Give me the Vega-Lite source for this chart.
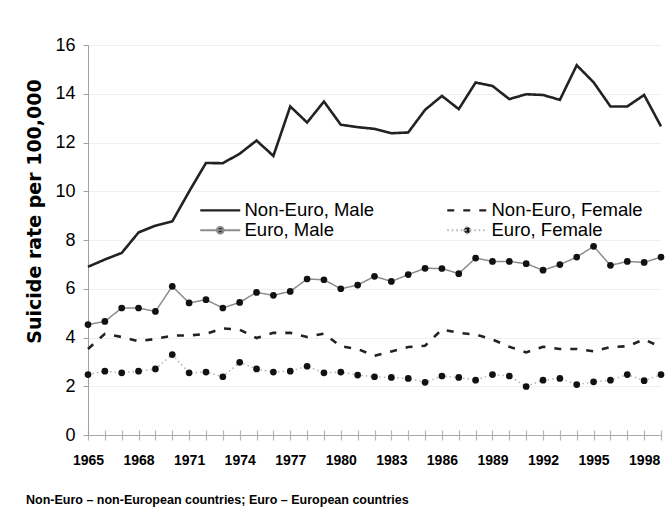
{
  "$schema": "https://vega.github.io/schema/vega-lite/v6.json",
  "width": 573,
  "height": 390,
  "padding": {"left": 25, "top": 36, "right": 5, "bottom": 5},
  "background": "white",
  "config": {"view": {"stroke": null}, "font": "Liberation Sans"},
  "title": {
    "text": "Non-Euro – non-European countries; Euro – European countries",
    "orient": "bottom", "anchor": "start", "frame": "bounds",
    "fontSize": 12.5, "fontWeight": "bold", "font": "Liberation Sans", "color": "#000000", "offset": 27
  },
  "data": {"values": [
    {"year":1965,"series":"Non-Euro, Male","rate":6.9},{"year":1966,"series":"Non-Euro, Male","rate":7.2},{"year":1967,"series":"Non-Euro, Male","rate":7.47},{"year":1968,"series":"Non-Euro, Male","rate":8.31},{"year":1969,"series":"Non-Euro, Male","rate":8.59},{"year":1970,"series":"Non-Euro, Male","rate":8.76},{"year":1971,"series":"Non-Euro, Male","rate":9.99},{"year":1972,"series":"Non-Euro, Male","rate":11.16},{"year":1973,"series":"Non-Euro, Male","rate":11.15},{"year":1974,"series":"Non-Euro, Male","rate":11.54},{"year":1975,"series":"Non-Euro, Male","rate":12.08},{"year":1976,"series":"Non-Euro, Male","rate":11.45},{"year":1977,"series":"Non-Euro, Male","rate":13.48},{"year":1978,"series":"Non-Euro, Male","rate":12.82},{"year":1979,"series":"Non-Euro, Male","rate":13.68},{"year":1980,"series":"Non-Euro, Male","rate":12.73},{"year":1981,"series":"Non-Euro, Male","rate":12.63},{"year":1982,"series":"Non-Euro, Male","rate":12.56},{"year":1983,"series":"Non-Euro, Male","rate":12.38},{"year":1984,"series":"Non-Euro, Male","rate":12.41},{"year":1985,"series":"Non-Euro, Male","rate":13.34},{"year":1986,"series":"Non-Euro, Male","rate":13.91},{"year":1987,"series":"Non-Euro, Male","rate":13.37},{"year":1988,"series":"Non-Euro, Male","rate":14.46},{"year":1989,"series":"Non-Euro, Male","rate":14.32},{"year":1990,"series":"Non-Euro, Male","rate":13.78},{"year":1991,"series":"Non-Euro, Male","rate":13.98},{"year":1992,"series":"Non-Euro, Male","rate":13.95},{"year":1993,"series":"Non-Euro, Male","rate":13.75},{"year":1994,"series":"Non-Euro, Male","rate":15.17},{"year":1995,"series":"Non-Euro, Male","rate":14.47},{"year":1996,"series":"Non-Euro, Male","rate":13.48},{"year":1997,"series":"Non-Euro, Male","rate":13.48},{"year":1998,"series":"Non-Euro, Male","rate":13.95},{"year":1999,"series":"Non-Euro, Male","rate":12.66},
    {"year":1965,"series":"Non-Euro, Female","rate":3.53},{"year":1966,"series":"Non-Euro, Female","rate":4.15},{"year":1967,"series":"Non-Euro, Female","rate":4.02},{"year":1968,"series":"Non-Euro, Female","rate":3.85},{"year":1969,"series":"Non-Euro, Female","rate":3.94},{"year":1970,"series":"Non-Euro, Female","rate":4.08},{"year":1971,"series":"Non-Euro, Female","rate":4.08},{"year":1972,"series":"Non-Euro, Female","rate":4.15},{"year":1973,"series":"Non-Euro, Female","rate":4.37},{"year":1974,"series":"Non-Euro, Female","rate":4.32},{"year":1975,"series":"Non-Euro, Female","rate":3.98},{"year":1976,"series":"Non-Euro, Female","rate":4.19},{"year":1977,"series":"Non-Euro, Female","rate":4.19},{"year":1978,"series":"Non-Euro, Female","rate":4.02},{"year":1979,"series":"Non-Euro, Female","rate":4.16},{"year":1980,"series":"Non-Euro, Female","rate":3.64},{"year":1981,"series":"Non-Euro, Female","rate":3.53},{"year":1982,"series":"Non-Euro, Female","rate":3.25},{"year":1983,"series":"Non-Euro, Female","rate":3.43},{"year":1984,"series":"Non-Euro, Female","rate":3.61},{"year":1985,"series":"Non-Euro, Female","rate":3.66},{"year":1986,"series":"Non-Euro, Female","rate":4.33},{"year":1987,"series":"Non-Euro, Female","rate":4.19},{"year":1988,"series":"Non-Euro, Female","rate":4.12},{"year":1989,"series":"Non-Euro, Female","rate":3.92},{"year":1990,"series":"Non-Euro, Female","rate":3.62},{"year":1991,"series":"Non-Euro, Female","rate":3.39},{"year":1992,"series":"Non-Euro, Female","rate":3.62},{"year":1993,"series":"Non-Euro, Female","rate":3.53},{"year":1994,"series":"Non-Euro, Female","rate":3.53},{"year":1995,"series":"Non-Euro, Female","rate":3.43},{"year":1996,"series":"Non-Euro, Female","rate":3.61},{"year":1997,"series":"Non-Euro, Female","rate":3.64},{"year":1998,"series":"Non-Euro, Female","rate":3.92},{"year":1999,"series":"Non-Euro, Female","rate":3.61},
    {"year":1965,"series":"Euro, Male","rate":4.53},{"year":1966,"series":"Euro, Male","rate":4.66},{"year":1967,"series":"Euro, Male","rate":5.21},{"year":1968,"series":"Euro, Male","rate":5.21},{"year":1969,"series":"Euro, Male","rate":5.07},{"year":1970,"series":"Euro, Male","rate":6.1},{"year":1971,"series":"Euro, Male","rate":5.42},{"year":1972,"series":"Euro, Male","rate":5.55},{"year":1973,"series":"Euro, Male","rate":5.21},{"year":1974,"series":"Euro, Male","rate":5.44},{"year":1975,"series":"Euro, Male","rate":5.85},{"year":1976,"series":"Euro, Male","rate":5.73},{"year":1977,"series":"Euro, Male","rate":5.89},{"year":1978,"series":"Euro, Male","rate":6.4},{"year":1979,"series":"Euro, Male","rate":6.37},{"year":1980,"series":"Euro, Male","rate":6.0},{"year":1981,"series":"Euro, Male","rate":6.15},{"year":1982,"series":"Euro, Male","rate":6.51},{"year":1983,"series":"Euro, Male","rate":6.3},{"year":1984,"series":"Euro, Male","rate":6.58},{"year":1985,"series":"Euro, Male","rate":6.84},{"year":1986,"series":"Euro, Male","rate":6.83},{"year":1987,"series":"Euro, Male","rate":6.62},{"year":1988,"series":"Euro, Male","rate":7.26},{"year":1989,"series":"Euro, Male","rate":7.12},{"year":1990,"series":"Euro, Male","rate":7.12},{"year":1991,"series":"Euro, Male","rate":7.03},{"year":1992,"series":"Euro, Male","rate":6.76},{"year":1993,"series":"Euro, Male","rate":6.99},{"year":1994,"series":"Euro, Male","rate":7.3},{"year":1995,"series":"Euro, Male","rate":7.74},{"year":1996,"series":"Euro, Male","rate":6.96},{"year":1997,"series":"Euro, Male","rate":7.12},{"year":1998,"series":"Euro, Male","rate":7.08},{"year":1999,"series":"Euro, Male","rate":7.3},
    {"year":1965,"series":"Euro, Female","rate":2.48},{"year":1966,"series":"Euro, Female","rate":2.62},{"year":1967,"series":"Euro, Female","rate":2.55},{"year":1968,"series":"Euro, Female","rate":2.62},{"year":1969,"series":"Euro, Female","rate":2.71},{"year":1970,"series":"Euro, Female","rate":3.3},{"year":1971,"series":"Euro, Female","rate":2.55},{"year":1972,"series":"Euro, Female","rate":2.58},{"year":1973,"series":"Euro, Female","rate":2.39},{"year":1974,"series":"Euro, Female","rate":2.98},{"year":1975,"series":"Euro, Female","rate":2.71},{"year":1976,"series":"Euro, Female","rate":2.58},{"year":1977,"series":"Euro, Female","rate":2.62},{"year":1978,"series":"Euro, Female","rate":2.82},{"year":1979,"series":"Euro, Female","rate":2.55},{"year":1980,"series":"Euro, Female","rate":2.58},{"year":1981,"series":"Euro, Female","rate":2.46},{"year":1982,"series":"Euro, Female","rate":2.39},{"year":1983,"series":"Euro, Female","rate":2.36},{"year":1984,"series":"Euro, Female","rate":2.32},{"year":1985,"series":"Euro, Female","rate":2.16},{"year":1986,"series":"Euro, Female","rate":2.42},{"year":1987,"series":"Euro, Female","rate":2.36},{"year":1988,"series":"Euro, Female","rate":2.25},{"year":1989,"series":"Euro, Female","rate":2.48},{"year":1990,"series":"Euro, Female","rate":2.42},{"year":1991,"series":"Euro, Female","rate":1.99},{"year":1992,"series":"Euro, Female","rate":2.25},{"year":1993,"series":"Euro, Female","rate":2.32},{"year":1994,"series":"Euro, Female","rate":2.07},{"year":1995,"series":"Euro, Female","rate":2.18},{"year":1996,"series":"Euro, Female","rate":2.25},{"year":1997,"series":"Euro, Female","rate":2.48},{"year":1998,"series":"Euro, Female","rate":2.23},{"year":1999,"series":"Euro, Female","rate":2.48}
  ]},
  "encoding": {
    "x": {
      "field": "year", "type": "quantitative",
      "scale": {"domain": [1965, 1999], "nice": false, "zero": false},
      "axis": {
        "title": null,
        "values": [1965,1966,1967,1968,1969,1970,1971,1972,1973,1974,1975,1976,1977,1978,1979,1980,1981,1982,1983,1984,1985,1986,1987,1988,1989,1990,1991,1992,1993,1994,1995,1996,1997,1998,1999],
        "format": "d",
        "labelExpr": "(datum.value - 1965) % 3 === 0 ? datum.label : ''",
        "domain": false, "offset": -5, "tickSize": 10, "tickColor": "#b4b4b4", "tickWidth": 1.2,
        "labelFont": "Liberation Sans", "labelFontSize": 14, "labelFontWeight": "bold", "labelColor": "#000000",
        "labelPadding": 13, "grid": false, "labelFlush": false, "labelOverlap": false
      }
    },
    "y": {
      "field": "rate", "type": "quantitative",
      "scale": {"domain": [0, 16], "nice": false},
      "axis": {
        "title": "Suicide rate per 100,000",
        "values": [0,2,4,6,8,10,12,14,16],
        "titleFont": "DejaVu Sans", "titleFontSize": 19, "titleFontWeight": "bold", "titleColor": "#000000",
        "titlePadding": 10, "titleY": 166,
        "labelFont": "Liberation Sans", "labelFontSize": 18, "labelColor": "#000000", "labelPadding": 8,
        "tickSize": 5, "tickColor": "#a0a0a0", "domainColor": "#a0a0a0",
        "gridColor": {"condition": {"test": "datum.value === 0", "value": "#a8a8a8"}, "value": "#efefef"}
      }
    }
  },
  "layer": [
    {
      "mark": {"type": "line"},
      "encoding": {
        "color": {
          "field": "series", "type": "nominal",
          "scale": {"domain": ["Non-Euro, Male","Non-Euro, Female","Euro, Male","Euro, Female"], "range": ["#222222","#222222","#8c8c8c","#b4b4b4"]},
          "legend": {
            "title": null, "orient": "none", "legendX": 108, "legendY": 156,
            "direction": "horizontal", "columns": 2, "columnPadding": 67, "rowPadding": 1, "padding": 0,
            "labelFont": "Liberation Sans", "labelFontSize": 18.5, "labelColor": "#000000", "labelOffset": 30, "labelLimit": 300,
            "symbolType": "M-1,0H7", "symbolSize": 100, "symbolStrokeWidth": 2.2,
            "encode": {"symbols": {"update": {
              "shape": {"signal": "indexof(datum.value, 'Non-Euro') === 0 ? 'M-1,0H7' : 'M-1,0H7M3.64,0A0.64,0.64 0 1 1 2.36,0A0.64,0.64 0 1 1 3.64,0Z'"},
              "fill": {"signal": "indexof(datum.value, 'Non-Euro') === 0 ? 'rgba(0,0,0,0)' : '#111111'"}
            }}}
          }
        },
        "strokeDash": {
          "field": "series", "type": "nominal",
          "scale": {"domain": ["Non-Euro, Male","Non-Euro, Female","Euro, Male","Euro, Female"], "range": [[1,0],[7,9],[1,0],[1.5,3]]}
        },
        "strokeWidth": {"condition": {"test": "indexof(datum.series, 'Non-Euro') === 0", "value": 2.6}, "value": 1.5}
      }
    },
    {
      "transform": [{"filter": {"field": "series", "oneOf": ["Euro, Male", "Euro, Female"]}}],
      "mark": {"type": "circle", "size": 45, "color": "#111111", "opacity": 1}
    }
  ]
}
